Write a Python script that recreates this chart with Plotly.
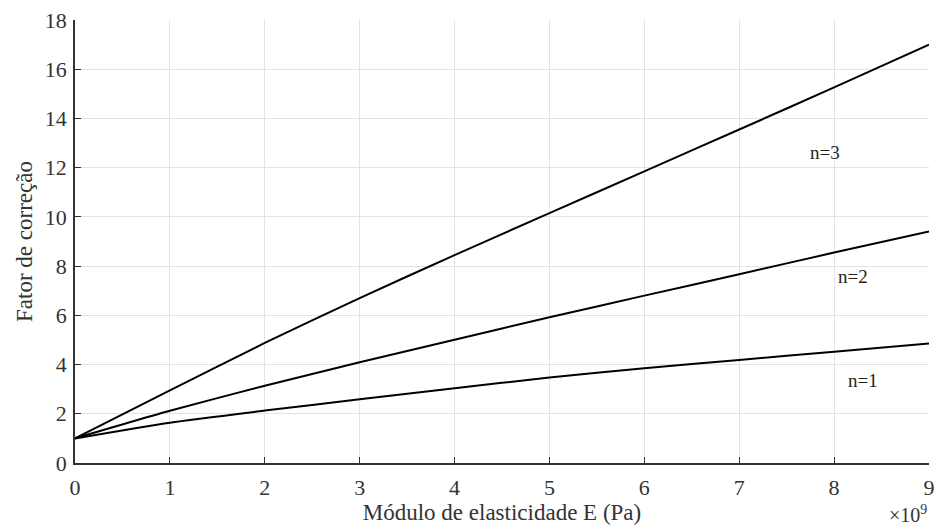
import plotly.graph_objects as go

E = [0, 1, 2, 3, 4, 5, 6, 7, 8, 9]
f_n1 = [1.0, 1.64, 2.13, 2.59, 3.04, 3.47, 3.85, 4.19, 4.52, 4.86]
f_n2 = [1.0, 2.12, 3.14, 4.09, 5.01, 5.92, 6.80, 7.67, 8.55, 9.41]
f_n3 = [1.0, 2.95, 4.88, 6.70, 8.45, 10.15, 11.85, 13.55, 15.26, 17.0]

labels = ["n=1", "n=2", "n=3"]
label_x = [8.3, 8.2, 7.9]
label_y = [3.35, 7.57, 12.6]

font_fam = "Liberation Serif, Times New Roman, serif"

fig = go.Figure()
for ys in (f_n1, f_n2, f_n3):
    fig.add_trace(go.Scatter(x=E, y=ys, mode="lines", line=dict(color="#000000", width=2, shape="spline", smoothing=0.6),
                             showlegend=False, hoverinfo="skip"))

for t, xx, yy in zip(labels, label_x, label_y):
    fig.add_annotation(x=xx, y=yy, text=t, showarrow=False, font=dict(family=font_fam, size=19, color="#222222"))

fig.add_annotation(xref="paper", yref="paper", x=1.0, y=0, yshift=-65, xanchor="right", yanchor="bottom",
                   text="×10<sup>9</sup>", showarrow=False, font=dict(family=font_fam, size=20, color="#333333"))

axis_common = dict(
    showgrid=True, gridcolor="#e3e3e3", gridwidth=1, zeroline=False,
    showline=True, linecolor="#333333", linewidth=1.5, mirror=False,
    ticks="inside", ticklen=6, tickcolor="#333333", tickwidth=1,
    tickfont=dict(family=font_fam, size=22, color="#333333"),
)

fig.update_xaxes(range=[0, 9], dtick=1, ticklabelstandoff=4,
                 title=dict(text="Módulo de elasticidade E (Pa)", font=dict(family=font_fam, size=23, color="#333333"), standoff=2), **axis_common)
fig.update_yaxes(range=[0, 18], dtick=2, ticklabelstandoff=2,
                 title=dict(text="Fator de correção", font=dict(family=font_fam, size=23, color="#333333"), standoff=6), **axis_common)

fig.update_layout(
    width=943, height=530,
    margin=dict(l=75, r=8, t=20, b=67),
    plot_bgcolor="white", paper_bgcolor="white",
)

fig.write_html("out.html")
